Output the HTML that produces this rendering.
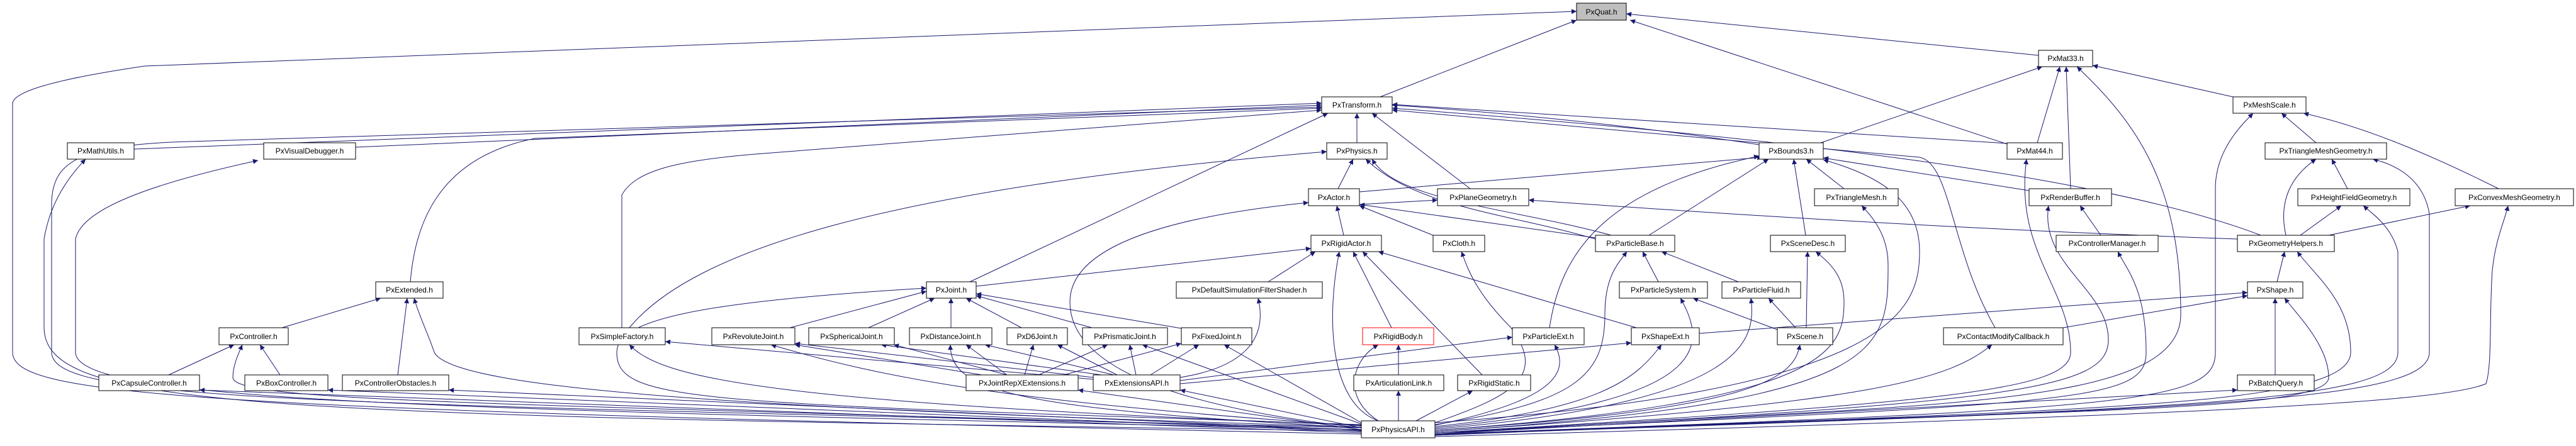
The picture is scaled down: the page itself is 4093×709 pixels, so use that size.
<!DOCTYPE html>
<html><head><meta charset="utf-8"><style>
html,body{margin:0;padding:0;background:#fff;}
svg{display:block;}
text{font-family:"Liberation Sans",sans-serif;font-size:12px;fill:#000;}
.n{fill:#fff;stroke:#000;stroke-width:1;}
.e{fill:none;stroke:#191970;stroke-width:1;}
</style></head><body>
<svg width="4093" height="709" viewBox="0 0 4093 709" xmlns="http://www.w3.org/2000/svg">
<defs><marker id="a" viewBox="0 0 10 10" refX="10" refY="5" markerWidth="10" markerHeight="8" markerUnits="userSpaceOnUse" orient="auto"><path d="M0,0 L10,5 L0,10 z" fill="#191970"/></marker></defs>
<g class="e" marker-end="url(#a)">
<path d="M2193,154 L2505,32"/>
<path d="M3239,88 L2584,22"/>
<path d="M3189,229 L2590,32"/>
<path d="M2163,690 C300,650 20,630 20,560 L20,165 C20,150 60,130 230,105 L2505,18"/>
<path d="M2893,227 L3245,106"/>
<path d="M3237,227 L3273,106"/>
<path d="M3290,300 L3283,106"/>
<path d="M3548,154 L3325,104"/>
<path d="M2280,690 C3000,640 3465,660 3465,500 C3465,300 3400,200 3300,106"/>
<path d="M2795,230 C2600,200 2400,180 2212,167"/>
<path d="M3189,228 L2212,166"/>
<path d="M3592,374 C3400,300 3000,230 2212,172"/>
<path d="M213,237 L2100,164"/>
<path d="M565,234 L2100,167"/>
<path d="M2156,227 L2156,180"/>
<path d="M2336,300 L2180,180"/>
<path d="M1541,448 L2110,180"/>
<path d="M652,448 C660,350 700,250 850,220 L2100,172"/>
<path d="M988,521 L988,310 C1010,270 1080,255 1200,245 L2100,175"/>
<path d="M3170,521 C3100,400 3100,260 3050,250 C2800,230 2500,200 2212,175"/>
<path d="M2163,680 C500,640 82,640 82,560 L82,320 C85,260 120,230 300,225 L2100,170"/>
<path d="M2163,685 C400,660 70,650 70,520 L70,380 C80,320 110,280 136,253"/>
<path d="M2163,683 C700,650 120,640 120,560 L120,380 C130,330 250,290 410,255"/>
<path d="M2163,679 C1200,650 720,620 690,560 C680,530 665,500 658,474"/>
<path d="M448,521 L605,474"/>
<path d="M632,596 L647,474"/>
<path d="M268,596 L372,548"/>
<path d="M445,596 L413,548"/>
<path d="M2163,683 C800,640 370,640 370,600 C370,580 380,560 385,548"/>
<path d="M2163,688 L317,620"/>
<path d="M2163,686 L521,620"/>
<path d="M2163,684 L713,620"/>
<path d="M2126,300 L2150,253"/>
<path d="M2535,380 C2400,340 2250,330 2170,253"/>
<path d="M2560,374 C2400,330 2220,320 2180,253"/>
<path d="M1000,521 C1100,400 1400,300 2108,241"/>
<path d="M2160,305 L2800,250"/>
<path d="M2620,374 L2810,253"/>
<path d="M2930,300 L2870,253"/>
<path d="M2869,374 L2850,253"/>
<path d="M3224,303 L2897,251"/>
<path d="M2462,521 C2480,400 2550,300 2795,248"/>
<path d="M2280,672 C3000,620 3050,500 3050,400 C3050,320 2990,280 2897,254"/>
<path d="M2160,325 L2284,318"/>
<path d="M2135,374 L2124,327"/>
<path d="M2277,374 L2160,327"/>
<path d="M2535,378 L2160,325"/>
<path d="M2163,680 C1800,640 1700,560 1700,480 C1700,380 1900,340 2079,322"/>
<path d="M3555,380 C3000,360 2600,330 2429,318"/>
<path d="M2015,448 L2090,400"/>
<path d="M2211,521 L2150,400"/>
<path d="M2355,596 L2165,400"/>
<path d="M2600,521 L2190,400"/>
<path d="M2190,669 C2110,640 2108,500 2128,400"/>
<path d="M1551,455 L2083,395"/>
<path d="M1255,521 L1472,463"/>
<path d="M1380,521 L1485,474"/>
<path d="M1511,521 L1511,474"/>
<path d="M1623,521 L1535,474"/>
<path d="M1735,521 L1551,470"/>
<path d="M1877,522 L1551,467"/>
<path d="M1560,596 L1263,548"/>
<path d="M1600,596 L1420,548"/>
<path d="M1600,596 L1535,548"/>
<path d="M1628,596 L1642,548"/>
<path d="M1650,596 L1760,548"/>
<path d="M1690,596 L1877,546"/>
<path d="M1737,600 L1263,546"/>
<path d="M1750,596 L1400,548"/>
<path d="M1770,596 L1565,548"/>
<path d="M1775,596 L1680,548"/>
<path d="M1805,596 L1795,548"/>
<path d="M1828,596 L1905,548"/>
<path d="M1737,603 L1057,543"/>
<path d="M1875,600 C2000,580 2010,520 1999,474"/>
<path d="M1875,605 L2403,536"/>
<path d="M1875,610 L2592,545"/>
<path d="M2163,680 L1875,620"/>
<path d="M2163,683 L1713,620"/>
<path d="M2222,596 L2222,548"/>
<path d="M2190,669 C2130,630 2150,570 2190,548"/>
<path d="M2222,669 L2222,621"/>
<path d="M2250,669 L2340,621"/>
<path d="M2280,672 C2400,630 2460,600 2400,520 C2340,460 2330,420 2322,400"/>
<path d="M2635,448 L2610,400"/>
<path d="M2762,448 L2640,400"/>
<path d="M2280,675 C2500,640 2550,600 2550,500 C2550,440 2570,420 2585,400"/>
<path d="M2280,676 C2450,640 2500,600 2470,548"/>
<path d="M2280,678 C2550,650 2600,600 2640,548"/>
<path d="M2280,680 C2700,640 2720,560 2670,474"/>
<path d="M2280,682 C2780,640 2790,540 2782,474"/>
<path d="M2870,521 L2872,400"/>
<path d="M2853,521 L2810,474"/>
<path d="M2824,524 L2690,474"/>
<path d="M2280,684 C2800,650 2850,600 2860,548"/>
<path d="M2280,684 C2900,640 2930,560 2930,480 C2930,440 2910,420 2885,400"/>
<path d="M2280,686 C3000,640 3000,560 3000,420 C3000,370 2970,340 2958,327"/>
<path d="M2700,530 L3571,465"/>
<path d="M3278,521 L3571,470"/>
<path d="M3615,596 L3615,474"/>
<path d="M2280,692 C3200,650 3700,660 3700,600 C3700,550 3650,500 3630,474"/>
<path d="M3618,448 L3630,400"/>
<path d="M2280,692 C3300,650 3735,650 3735,560 C3735,480 3680,440 3650,400"/>
<path d="M3655,374 L3720,327"/>
<path d="M3632,374 C3620,320 3640,280 3680,253"/>
<path d="M3700,374 L3925,327"/>
<path d="M3730,300 L3705,253"/>
<path d="M3680,227 L3625,180"/>
<path d="M3970,300 C3850,240 3750,200 3660,180"/>
<path d="M2280,690 C3400,650 3520,640 3520,560 L3520,300 C3520,240 3560,200 3580,180"/>
<path d="M2280,691 C3500,650 3860,640 3860,560 L3860,340 C3850,280 3800,260 3770,253"/>
<path d="M2280,690 C3500,650 3810,640 3810,560 L3810,400 C3800,360 3770,340 3755,327"/>
<path d="M2280,694 C3500,660 3880,640 3950,610 C3960,580 3955,500 3960,430 C3965,380 3980,350 3985,327"/>
<path d="M2280,688 C3300,640 3410,640 3410,560 C3410,460 3380,430 3365,400"/>
<path d="M3338,374 L3305,327"/>
<path d="M2280,688 C3200,640 3350,620 3350,540 C3350,460 3240,420 3255,327"/>
<path d="M2280,688 C3100,640 3290,620 3290,560 C3290,460 3200,400 3220,253"/>
<path d="M2280,686 C3000,640 3100,600 3165,548"/>
<path d="M2280,690 L3555,620"/>
<path d="M2163,676 C1200,640 1050,600 1000,548"/>
<path d="M2163,677 C1600,640 1400,600 1225,548"/>
<path d="M2163,680 C1600,650 1510,620 1510,548"/>
<path d="M2163,674 L1815,548"/>
<path d="M2163,672 L1945,548"/>
<path d="M2163,675 C1100,640 980,640 980,560 C980,510 1100,480 1472,458"/>
</g>
<g>
<rect class="n" x="2505" y="5" width="79" height="27" style="fill:#bfbfbf"/><text x="2544.5" y="23" text-anchor="middle">PxQuat.h</text>
<rect class="n" x="3239" y="80" width="86" height="26"/><text x="3282" y="97" text-anchor="middle">PxMat33.h</text>
<rect class="n" x="2100" y="154" width="112" height="26"/><text x="2156" y="171" text-anchor="middle">PxTransform.h</text>
<rect class="n" x="3548" y="154" width="116" height="26"/><text x="3606" y="171" text-anchor="middle">PxMeshScale.h</text>
<rect class="n" x="107" y="227" width="106" height="26"/><text x="160" y="244" text-anchor="middle">PxMathUtils.h</text>
<rect class="n" x="419" y="227" width="146" height="26"/><text x="492" y="244" text-anchor="middle">PxVisualDebugger.h</text>
<rect class="n" x="2108" y="227" width="96" height="26"/><text x="2156" y="244" text-anchor="middle">PxPhysics.h</text>
<rect class="n" x="2795" y="227" width="102" height="26"/><text x="2846" y="244" text-anchor="middle">PxBounds3.h</text>
<rect class="n" x="3189" y="227" width="88" height="26"/><text x="3233" y="244" text-anchor="middle">PxMat44.h</text>
<rect class="n" x="3599" y="227" width="193" height="26"/><text x="3695.5" y="244" text-anchor="middle">PxTriangleMeshGeometry.h</text>
<rect class="n" x="2079" y="300" width="81" height="27"/><text x="2119.5" y="318" text-anchor="middle">PxActor.h</text>
<rect class="n" x="2284" y="300" width="145" height="27"/><text x="2356.5" y="318" text-anchor="middle">PxPlaneGeometry.h</text>
<rect class="n" x="2883" y="300" width="133" height="27"/><text x="2949.5" y="318" text-anchor="middle">PxTriangleMesh.h</text>
<rect class="n" x="3224" y="300" width="131" height="27"/><text x="3289.5" y="318" text-anchor="middle">PxRenderBuffer.h</text>
<rect class="n" x="3651" y="300" width="178" height="27"/><text x="3740" y="318" text-anchor="middle">PxHeightFieldGeometry.h</text>
<rect class="n" x="3901" y="300" width="188" height="27"/><text x="3995" y="318" text-anchor="middle">PxConvexMeshGeometry.h</text>
<rect class="n" x="2083" y="374" width="112" height="26"/><text x="2139" y="391" text-anchor="middle">PxRigidActor.h</text>
<rect class="n" x="2277" y="374" width="82" height="26"/><text x="2318" y="391" text-anchor="middle">PxCloth.h</text>
<rect class="n" x="2535" y="374" width="126" height="26"/><text x="2598" y="391" text-anchor="middle">PxParticleBase.h</text>
<rect class="n" x="2813" y="374" width="119" height="26"/><text x="2872.5" y="391" text-anchor="middle">PxSceneDesc.h</text>
<rect class="n" x="3267" y="374" width="162" height="26"/><text x="3348" y="391" text-anchor="middle">PxControllerManager.h</text>
<rect class="n" x="3555" y="374" width="154" height="26"/><text x="3632" y="391" text-anchor="middle">PxGeometryHelpers.h</text>
<rect class="n" x="597" y="448" width="107" height="26"/><text x="650.5" y="465" text-anchor="middle">PxExtended.h</text>
<rect class="n" x="1472" y="448" width="79" height="26"/><text x="1511.5" y="465" text-anchor="middle">PxJoint.h</text>
<rect class="n" x="1869" y="448" width="232" height="26"/><text x="1985" y="465" text-anchor="middle">PxDefaultSimulationFilterShader.h</text>
<rect class="n" x="2573" y="448" width="140" height="26"/><text x="2643" y="465" text-anchor="middle">PxParticleSystem.h</text>
<rect class="n" x="2736" y="448" width="125" height="26"/><text x="2798.5" y="465" text-anchor="middle">PxParticleFluid.h</text>
<rect class="n" x="3571" y="448" width="88" height="26"/><text x="3615" y="465" text-anchor="middle">PxShape.h</text>
<rect class="n" x="348" y="521" width="110" height="27"/><text x="403" y="539" text-anchor="middle">PxController.h</text>
<rect class="n" x="920" y="521" width="137" height="27"/><text x="988.5" y="539" text-anchor="middle">PxSimpleFactory.h</text>
<rect class="n" x="1131" y="521" width="132" height="27"/><text x="1197" y="539" text-anchor="middle">PxRevoluteJoint.h</text>
<rect class="n" x="1285" y="521" width="136" height="27"/><text x="1353" y="539" text-anchor="middle">PxSphericalJoint.h</text>
<rect class="n" x="1445" y="521" width="131" height="27"/><text x="1510.5" y="539" text-anchor="middle">PxDistanceJoint.h</text>
<rect class="n" x="1600" y="521" width="96" height="27"/><text x="1648" y="539" text-anchor="middle">PxD6Joint.h</text>
<rect class="n" x="1720" y="521" width="135" height="27"/><text x="1787.5" y="539" text-anchor="middle">PxPrismaticJoint.h</text>
<rect class="n" x="1877" y="521" width="112" height="27"/><text x="1933" y="539" text-anchor="middle">PxFixedJoint.h</text>
<rect class="n" x="2165" y="521" width="113" height="27" style="stroke:#f00"/><text x="2221.5" y="539" text-anchor="middle">PxRigidBody.h</text>
<rect class="n" x="2403" y="521" width="114" height="27"/><text x="2460" y="539" text-anchor="middle">PxParticleExt.h</text>
<rect class="n" x="2592" y="521" width="108" height="27"/><text x="2646" y="539" text-anchor="middle">PxShapeExt.h</text>
<rect class="n" x="2824" y="521" width="88" height="27"/><text x="2868" y="539" text-anchor="middle">PxScene.h</text>
<rect class="n" x="3088" y="521" width="190" height="27"/><text x="3183" y="539" text-anchor="middle">PxContactModifyCallback.h</text>
<rect class="n" x="157" y="596" width="160" height="25"/><text x="237" y="613" text-anchor="middle">PxCapsuleController.h</text>
<rect class="n" x="389" y="596" width="132" height="25"/><text x="455" y="613" text-anchor="middle">PxBoxController.h</text>
<rect class="n" x="544" y="596" width="169" height="25"/><text x="628.5" y="613" text-anchor="middle">PxControllerObstacles.h</text>
<rect class="n" x="1535" y="596" width="178" height="25"/><text x="1624" y="613" text-anchor="middle">PxJointRepXExtensions.h</text>
<rect class="n" x="1737" y="596" width="138" height="25"/><text x="1806" y="613" text-anchor="middle">PxExtensionsAPI.h</text>
<rect class="n" x="2151" y="596" width="143" height="25"/><text x="2222.5" y="613" text-anchor="middle">PxArticulationLink.h</text>
<rect class="n" x="2316" y="596" width="116" height="25"/><text x="2374" y="613" text-anchor="middle">PxRigidStatic.h</text>
<rect class="n" x="3555" y="596" width="122" height="25"/><text x="3616" y="613" text-anchor="middle">PxBatchQuery.h</text>
<rect class="n" x="2163" y="669" width="117" height="27"/><text x="2221.5" y="687" text-anchor="middle">PxPhysicsAPI.h</text>
</g>
</svg>
</body></html>
